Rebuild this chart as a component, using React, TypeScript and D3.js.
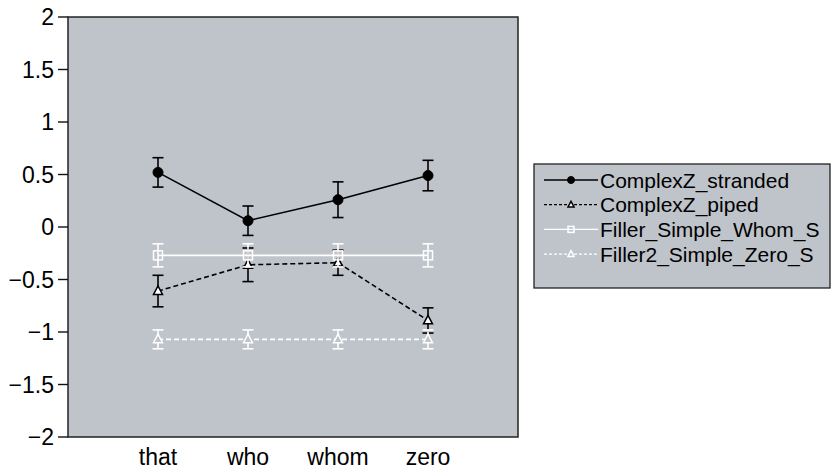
import React from 'react';
import * as d3 from 'd3';

const categories = ['that', 'who', 'whom', 'zero'];
const yTicks = [-2, -1.5, -1, -0.5, 0, 0.5, 1, 1.5, 2];

const strandedMean = [0.52, 0.06, 0.26, 0.49];
const strandedErr = [0.14, 0.14, 0.17, 0.145];
const pipedMean = [-0.61, -0.36, -0.34, -0.89];
const pipedErr = [0.15, 0.16, 0.12, 0.12];
const whomMean = [-0.27, -0.27, -0.27, -0.27];
const whomErr = [0.11, 0.11, 0.11, 0.11];
const zeroMean = [-1.07, -1.07, -1.07, -1.07];
const zeroErr = [0.09, 0.09, 0.09, 0.09];

const seriesNames = ['ComplexZ_stranded', 'ComplexZ_piped', 'Filler_Simple_Whom_S', 'Filler2_Simple_Zero_S'];

type Marker = 'circle' | 'triangle' | 'square';

const series = [
  { name: seriesNames[0], mean: strandedMean, err: strandedErr, color: '#000', dash: null, marker: 'circle' as Marker },
  { name: seriesNames[1], mean: pipedMean, err: pipedErr, color: '#000', dash: '5,3', marker: 'triangle' as Marker },
  { name: seriesNames[2], mean: whomMean, err: whomErr, color: '#fff', dash: null, marker: 'square' as Marker },
  { name: seriesNames[3], mean: zeroMean, err: zeroErr, color: '#fff', dash: '5,3', marker: 'triangle' as Marker },
];

const W = 831;
const H = 470;
const plot = { left: 68, top: 17, right: 518, bottom: 437 };
const bg = '#bfc3ca';
const font = '"Liberation Sans", Arial, sans-serif';

function drawMarker(kind: Marker, x: number, y: number, color: string, s: number) {
  if (kind === 'circle') {
    return <circle cx={x} cy={y} r={s} fill={color} stroke={color} />;
  }
  if (kind === 'square') {
    return <rect x={x - s} y={y - s} width={s * 2} height={s * 2} fill="none" stroke={color} strokeWidth={1.5} />;
  }
  const h = s * 1.9;
  const pts = `${x},${y - h * 0.6} ${x - s},${y + h * 0.4} ${x + s},${y + h * 0.4}`;
  const fill = color === '#000' ? '#fff' : bg;
  return <polygon points={pts} fill={fill} stroke={color} strokeWidth={1.5} />;
}

export default function App() {
  const x = d3.scalePoint<string>().domain(categories).range([plot.left, plot.right]).padding(1);
  const y = d3.scaleLinear().domain([-2, 2]).range([plot.bottom, plot.top]);
  const line = d3.line<number>()
    .x((_, i) => x(categories[i]) as number)
    .y((d) => y(d));

  const fmt = (v: number) => String(v).replace('-', '\u2212');

  const legendX = 534;
  const legendY = 164;
  const rowH = 24.7;

  return (
    <svg width={W} height={H} style={{ position: 'absolute', left: 0, top: 0 }} fontFamily={font}>
      <rect x={plot.left} y={plot.top} width={plot.right - plot.left} height={plot.bottom - plot.top} fill={bg} stroke="#222" strokeWidth={1.5} />

      {yTicks.map((t) => (
        <g key={t}>
          <line x1={plot.left - 10} x2={plot.left} y1={y(t)} y2={y(t)} stroke="#111" strokeWidth={1.4} />
          <text x={plot.left - 14} y={y(t)} dy="0.36em" textAnchor="end" fontSize={23} fill="#000">{fmt(t)}</text>
        </g>
      ))}

      {categories.map((c) => (
        <text key={c} x={x(c)} y={465} textAnchor="middle" fontSize={23} fill="#000">{c}</text>
      ))}

      {series.map((s) => (
        <g key={s.name}>
          <path d={line(s.mean) || ''} fill="none" stroke={s.color} strokeWidth={1.6} strokeDasharray={s.dash || undefined} />
          {s.mean.map((m, i) => {
            const cx = x(categories[i]) as number;
            const y1 = y(m + s.err[i]);
            const y2 = y(m - s.err[i]);
            return (
              <g key={i}>
                <line x1={cx} x2={cx} y1={y1} y2={y2} stroke={s.color} strokeWidth={1.6} />
                <line x1={cx - 5.5} x2={cx + 5.5} y1={y1} y2={y1} stroke={s.color} strokeWidth={1.6} />
                <line x1={cx - 5.5} x2={cx + 5.5} y1={y2} y2={y2} stroke={s.color} strokeWidth={1.6} />
                {drawMarker(s.marker, cx, y(m), s.color, s.marker === 'circle' ? 5 : 4.5)}
              </g>
            );
          })}
        </g>
      ))}

      <rect x={legendX} y={legendY} width={296} height={124} fill={bg} stroke="#222" strokeWidth={1.3} />
      {series.map((s, i) => {
        const ly = legendY + 16 + i * rowH;
        return (
          <g key={s.name}>
            <line x1={544} x2={598} y1={ly} y2={ly} stroke={s.color} strokeWidth={1.3} strokeDasharray={s.dash ? '3,2' : undefined} />
            {drawMarker(s.marker, 571, ly, s.color, s.marker === 'circle' ? 3.5 : 3)}
            <text x={600} y={ly} dy="0.36em" fontSize={21} fill="#000">{s.name}</text>
          </g>
        );
      })}
    </svg>
  );
}
